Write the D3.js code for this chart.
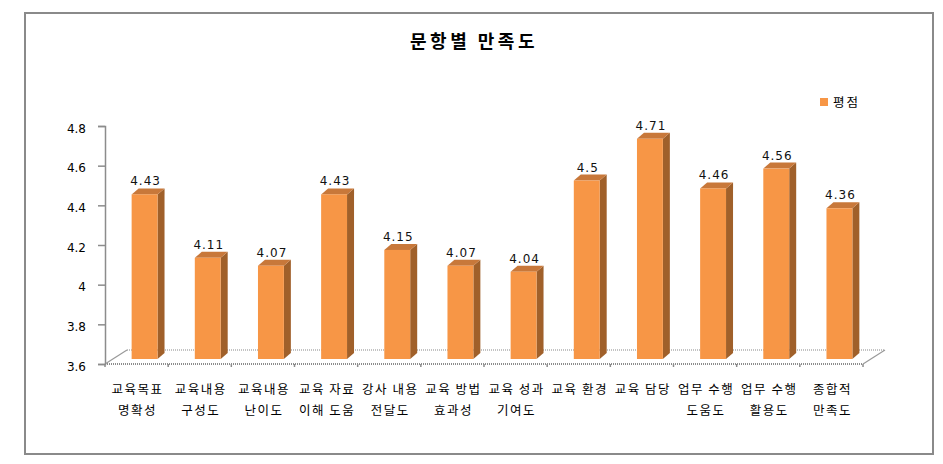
<!DOCTYPE html>
<html><head><meta charset="utf-8">
<script src="https://cdn.jsdelivr.net/npm/d3@7"></script>
<style>html,body{margin:0;padding:0;background:#fff;}svg{display:block;}</style>
</head><body>
<svg id="chart" width="943" height="464"></svg>
<script>
const categories = [
  ["교육목표","명확성"],["교육내용","구성도"],["교육내용","난이도"],["교육 자료","이해 도움"],
  ["강사 내용","전달도"],["교육 방법","효과성"],["교육 성과","기여도"],["교육 환경",""],
  ["교육 담당",""],["업무 수행","도움도"],["업무 수행","활용도"],["종합적","만족도"]
];
const values = [4.43, 4.11, 4.07, 4.43, 4.15, 4.07, 4.04, 4.5, 4.71, 4.46, 4.56, 4.36];
const yTicks = [3.6, 3.8, 4, 4.2, 4.4, 4.6, 4.8];
const seriesName = "평점";
const title = "문항별 만족도";

const svg = d3.select("#chart");
const ids = categories.map((c,i)=>i);

// frame
svg.append("rect").attr("x",25).attr("y",13).attr("width",908).attr("height",441)
  .attr("fill","#fff").attr("stroke","#8a8a8a").attr("stroke-width",2);

svg.append("text").attr("x",474).attr("y",48).attr("text-anchor","middle")
  .attr("font-family","Noto Sans CJK KR").attr("font-weight","bold").attr("font-size",18)
  .attr("letter-spacing",3.5).attr("fill","#000").text(title);

const x0 = 105, x1 = 863, yFront = 364, yTop = 126;
const x = d3.scaleBand().domain(ids).range([x0, x1]).paddingInner(0.59).paddingOuter(0.295);
const y = d3.scaleLinear().domain([3.6, 4.8]).range([yFront, yTop]);

// floor
const fdx = 22, fdy = 14;
const floor = svg.append("g");
floor.append("line").attr("x1",x0+fdx).attr("y1",yFront-fdy).attr("x2",x1+fdx).attr("y2",yFront-fdy)
  .attr("stroke","#b0b0b0").attr("stroke-width",1.5).attr("stroke-dasharray","1,1");
floor.append("line").attr("x1",x0).attr("y1",yFront).attr("x2",x0+fdx).attr("y2",yFront-fdy)
  .attr("stroke","#999").attr("stroke-width",1.2);
floor.append("line").attr("x1",x1).attr("y1",yFront).attr("x2",x1+fdx).attr("y2",yFront-fdy)
  .attr("stroke","#999").attr("stroke-width",1.2);
floor.append("line").attr("x1",x0).attr("y1",yFront).attr("x2",x1).attr("y2",yFront)
  .attr("stroke","#8c8c8c").attr("stroke-width",2).attr("stroke-dasharray","1,1");
const step = x.step();
floor.selectAll("line.tk").data(d3.range(13)).join("line").attr("class","tk")
  .attr("x1",i=>x0+i*step).attr("x2",i=>x0+i*step).attr("y1",yFront).attr("y2",yFront+3)
  .attr("stroke","#8c8c8c").attr("stroke-width",1.5);

// y axis
const yAxis = d3.axisLeft(y).tickValues(yTicks).tickSize(7).tickPadding(12).tickFormat(d3.format(""));
const ga = svg.append("g").attr("transform",`translate(${x0},0)`).call(yAxis);
ga.select(".domain").attr("stroke","#8c8c8c").attr("stroke-width",1.5);
ga.selectAll(".tick line").attr("stroke","#8c8c8c").attr("stroke-width",1.5);
ga.selectAll(".tick text").attr("font-family","DejaVu Sans").attr("font-size",12).attr("fill","#000")
  .attr("dy","0.5em");

// bars
const bdx = 8, bdy = 5, dep = 7, depy = 6;
const base = 3.6;
const bars = svg.append("g");
ids.forEach(i=>{
  const v = values[i];
  const xl = x(i)+bdx, xr = xl + x.bandwidth();
  const yt = y(v)-bdy, yb = y(base)-bdy;
  bars.append("polygon").attr("points",[[xr,yt],[xr+dep,yt-depy],[xr+dep,yb-depy],[xr,yb]].join(" "))
    .attr("fill","#A0602A");
  bars.append("polygon").attr("points",[[xl,yt],[xl+dep,yt-depy],[xr+dep,yt-depy],[xr,yt]].join(" "))
    .attr("fill","#C8783A");
  bars.append("rect").attr("x",xl).attr("y",yt).attr("width",x.bandwidth()).attr("height",yb-yt)
    .attr("fill","#F79646");
  bars.append("text").attr("x",(xl+xr)/2+1).attr("y",yt-9).attr("text-anchor","middle")
    .attr("font-family","DejaVu Sans").attr("font-size",12).attr("letter-spacing",1)
    .attr("fill","#111").text(String(v));
});

// x labels
const xl = svg.append("g").attr("font-family","Noto Sans CJK KR").attr("font-size",12.5)
  .attr("letter-spacing",1.5).attr("fill","#000");
ids.forEach(i=>{
  const cx = x(i)+x.bandwidth()/2 + 1;
  categories[i].forEach((line,k)=>{
    if(!line) return;
    xl.append("text").attr("x",cx).attr("y",394+k*21).attr("text-anchor","middle").text(line);
  });
});

// legend
svg.append("rect").attr("x",820).attr("y",98).attr("width",8).attr("height",8).attr("fill","#F79646");
svg.append("text").attr("x",833).attr("y",107).attr("font-family","Noto Sans CJK KR").attr("font-size",12.5)
  .attr("letter-spacing",2).attr("fill","#000").text(seriesName);
</script>
</body></html>
